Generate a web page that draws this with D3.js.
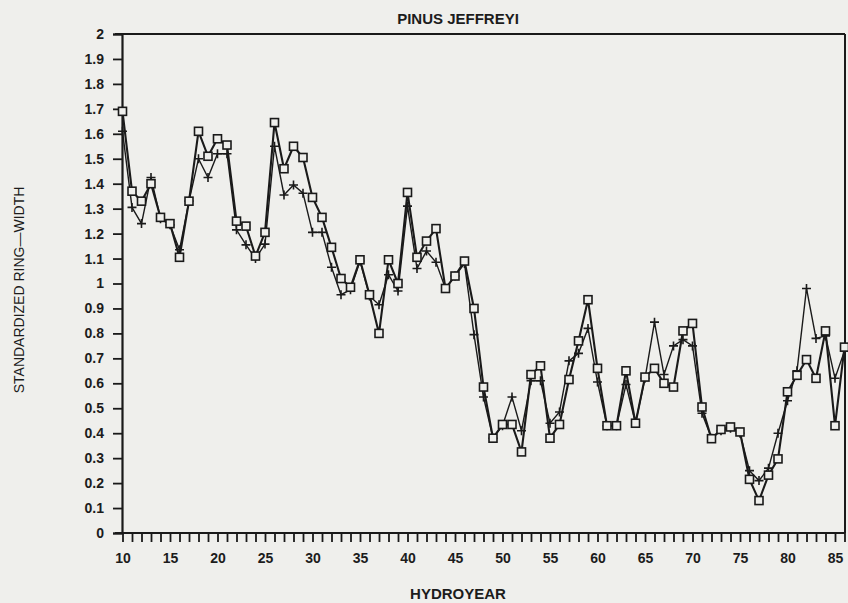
<!DOCTYPE html>
<html>
<head>
<meta charset="utf-8">
<script src="https://cdn.jsdelivr.net/npm/d3@7"></script>
<style>
  html, body { margin: 0; padding: 0; background: #efefec; }
  svg { display: block; }
  text { font-family: "Liberation Sans", Arial, sans-serif; fill: #1c1c1c; }
</style>
</head>
<body>
<svg id="chart" width="848" height="603"></svg>
<script>
// Hydro-years on the x axis
const years = d3.range(10, 87);

// Standardized ring-width, first chronology (square markers)
const squareSeries = [
  1.69, 1.37, 1.33, 1.40, 1.265, 1.24, 1.105, 1.33, 1.61, 1.51,
  1.58, 1.555, 1.25, 1.23, 1.11, 1.205, 1.645, 1.46, 1.55, 1.505,
  1.345, 1.265, 1.145, 1.02, 0.985, 1.095, 0.955, 0.80, 1.095, 1.00,
  1.365, 1.105, 1.17, 1.22, 0.98, 1.03, 1.09, 0.90, 0.585, 0.38,
  0.435, 0.435, 0.325, 0.635, 0.67, 0.38, 0.435, 0.615, 0.77, 0.935,
  0.66, 0.43, 0.43, 0.65, 0.44, 0.625, 0.66, 0.60, 0.585, 0.81,
  0.84, 0.505, 0.378, 0.415, 0.425, 0.405, 0.215, 0.13, 0.232, 0.297,
  0.566, 0.632, 0.695, 0.62, 0.81, 0.43, 0.745
];

// Standardized ring-width, second chronology (plus markers)
const plusSeries = [
  1.61, 1.305, 1.24, 1.425, 1.26, 1.235, 1.135, 1.33, 1.50, 1.425,
  1.52, 1.52, 1.215, 1.155, 1.10, 1.158, 1.55, 1.355, 1.395, 1.362,
  1.205, 1.205, 1.065, 0.955, 0.975, 1.09, 0.95, 0.915, 1.035, 0.97,
  1.31, 1.06, 1.13, 1.085, 0.98, 1.03, 1.08, 0.795, 0.545, 0.38,
  0.43, 0.545, 0.41, 0.61, 0.61, 0.44, 0.485, 0.69, 0.72, 0.82,
  0.605, 0.43, 0.43, 0.595, 0.44, 0.62, 0.845, 0.635, 0.75, 0.775,
  0.75, 0.48, 0.38, 0.41, 0.42, 0.40, 0.25, 0.21, 0.26, 0.40,
  0.53, 0.65, 0.98, 0.78, 0.79, 0.62, 0.73
];

// Axis tick values and labels
const yTicks = d3.range(0, 21).map(i => i / 10);
const xMinorTicks = d3.range(10, 87);
const xLabelTicks = [10, 15, 20, 25, 30, 35, 40, 45, 50, 55, 60, 65, 70, 75, 80, 85];

const titleText = "PINUS JEFFREYI";
const xTitle = "HYDROYEAR";
const yTitle = "STANDARDIZED RING\u2014WIDTH";

const svg = d3.select("#chart");
const ink = "#1a1a1a";

const plotLeft = 122, plotRight = 845, plotTop = 34, plotBottom = 533;

const x = d3.scaleLinear().domain([10, 86]).range([122.5, 844.5]);
const y = d3.scaleLinear().domain([0, 2]).range([plotBottom, plotTop]);

// Frame: top and right border
svg.append("line")
  .attr("x1", plotLeft - 7).attr("x2", plotRight)
  .attr("y1", plotTop).attr("y2", plotTop)
  .attr("stroke", ink).attr("stroke-width", 2);
svg.append("line")
  .attr("x1", plotRight).attr("x2", plotRight)
  .attr("y1", plotTop).attr("y2", plotBottom)
  .attr("stroke", ink).attr("stroke-width", 2);

// Y axis
const yAxis = d3.axisLeft(y)
  .tickValues(yTicks)
  .tickSize(9)
  .tickPadding(9)
  .tickFormat(d => d3.format("~g")(d));
const gy = svg.append("g")
  .attr("transform", `translate(${plotLeft},0)`)
  .call(yAxis);
gy.select(".domain").attr("stroke", ink).attr("stroke-width", 2.2);
gy.selectAll(".tick line").attr("stroke", ink).attr("stroke-width", 1.8);
gy.selectAll(".tick text")
  .style("font-size", "14px").style("font-weight", "bold").attr("fill", ink);

// X axis: minor ticks every year, labels every fifth
const xAxis = d3.axisBottom(x)
  .tickValues(xMinorTicks)
  .tickSize(9)
  .tickPadding(11)
  .tickFormat(d => xLabelTicks.includes(d) ? d : "");
const gx = svg.append("g")
  .attr("transform", `translate(0,${plotBottom})`)
  .call(xAxis);
gx.select(".domain").remove();
gx.append("line")
  .attr("x1", plotLeft - 7).attr("x2", plotRight)
  .attr("stroke", ink).attr("stroke-width", 2.2);
gx.selectAll(".tick line").attr("stroke", ink).attr("stroke-width", 1.8);
gx.selectAll(".tick text")
  .style("font-size", "14px").style("font-weight", "bold").attr("fill", ink);

// Series lines
const pointsSq = years.map((yr, i) => [yr, squareSeries[i]]);
const pointsPl = years.map((yr, i) => [yr, plusSeries[i]]);
const line = d3.line().x(d => x(d[0])).y(d => y(d[1]));

svg.append("path").datum(pointsPl)
  .attr("d", line).attr("fill", "none")
  .attr("stroke", ink).attr("stroke-width", 1.4)
  .attr("stroke-linejoin", "miter");
svg.append("path").datum(pointsSq)
  .attr("d", line).attr("fill", "none")
  .attr("stroke", ink).attr("stroke-width", 2.1)
  .attr("stroke-linejoin", "miter");

// Plus markers
const pl = 4.5;
svg.append("g").selectAll("path").data(pointsPl).join("path")
  .attr("d", d => {
    const cx = x(d[0]), cy = y(d[1]);
    return `M${cx - pl},${cy}H${cx + pl}M${cx},${cy - pl}V${cy + pl}`;
  })
  .attr("stroke", ink).attr("stroke-width", 1.6).attr("fill", "none");

// Square markers
const sq = 8;
svg.append("g").selectAll("rect").data(pointsSq).join("rect")
  .attr("x", d => x(d[0]) - sq / 2)
  .attr("y", d => y(d[1]) - sq / 2)
  .attr("width", sq).attr("height", sq)
  .attr("fill", "#efefec")
  .attr("stroke", ink).attr("stroke-width", 1.6);

// Titles
svg.append("text")
  .attr("x", 458).attr("y", 24)
  .attr("text-anchor", "middle")
  .style("font-size", "15px").style("font-weight", "bold")
  .text(titleText);

svg.append("text")
  .attr("x", 458).attr("y", 599)
  .attr("text-anchor", "middle")
  .style("font-size", "15px").style("font-weight", "bold")
  .text(xTitle);

svg.append("text")
  .attr("transform", "translate(24,290) rotate(-90)")
  .attr("text-anchor", "middle")
  .style("font-size", "14px")
  .text(yTitle);
</script>
</body>
</html>
